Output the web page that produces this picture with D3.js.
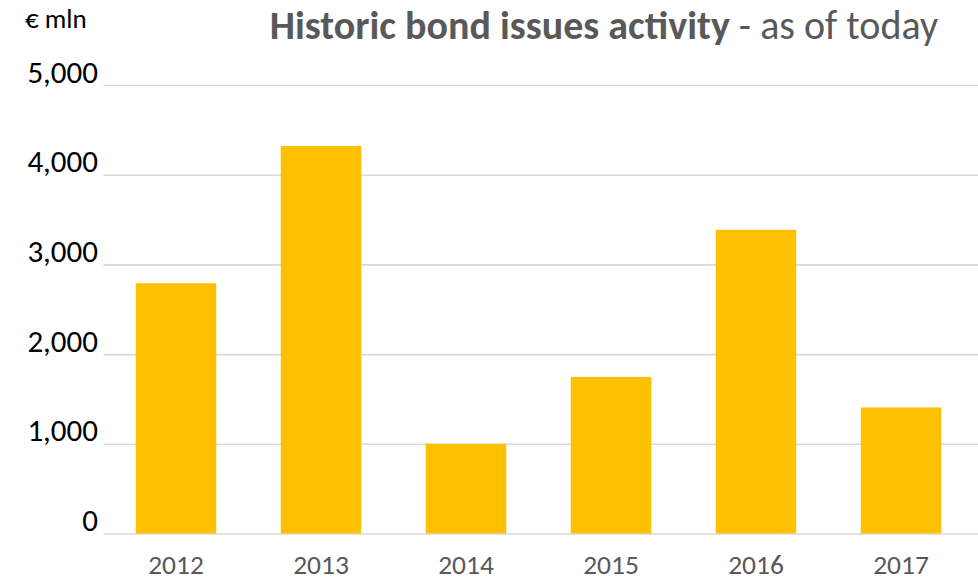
<!DOCTYPE html>
<html>
<head>
<meta charset="utf-8">
<script src="https://cdn.jsdelivr.net/npm/d3@7"></script>
<style>
  html, body { margin: 0; padding: 0; background: #fff; }
  svg { display: block; }
  text { font-family: Carlito, "Open Sans", Lato, sans-serif; }
</style>
</head>
<body>
<svg id="chart" width="978" height="582"></svg>
<script>
// Yearly bond issue volume, € mln
const years = ["2012", "2013", "2014", "2015", "2016", "2017"];
const issued = [2790, 4320, 1000, 1745, 3385, 1405];
const yTicks = [0, 1000, 2000, 3000, 4000, 5000];

const width = 978, height = 582;
const margin = { top: 85, right: 4.5, bottom: 48.5, left: 103.5 };

const svg = d3.select("#chart");

const x = d3.scaleBand()
  .domain(years)
  .range([margin.left, width - margin.right])
  .paddingInner(0.445)
  .paddingOuter(0.2225);

const y = d3.scaleLinear()
  .domain([0, 5000])
  .range([height - margin.bottom, margin.top]);

// horizontal gridlines with value labels on the left
const yAxis = d3.axisLeft(y)
  .tickValues(yTicks)
  .tickFormat(d3.format(","))
  .tickSize(-(width - margin.left))
  .tickPadding(5.5);

const gy = svg.append("g")
  .attr("transform", `translate(${margin.left},0)`)
  .call(yAxis);
gy.select(".domain").remove();
gy.selectAll(".tick line")
  .attr("stroke", "#d9d9d9")
  .attr("stroke-width", 1.6);
gy.selectAll(".tick text")
  .attr("fill", "#000")
  .attr("font-size", 31)
  .attr("y", -3)
  .attr("dy", 0);

// bars
svg.append("g")
  .selectAll("rect")
  .data(years)
  .join("rect")
  .attr("x", d => x(d))
  .attr("width", x.bandwidth())
  .attr("y", (d, i) => y(issued[i]))
  .attr("height", (d, i) => y(0) - y(issued[i]))
  .attr("fill", "#FFC000");

// year labels
const xAxis = d3.axisBottom(x).tickSize(0).tickPadding(0);
const gx = svg.append("g")
  .attr("transform", `translate(0,${y(0)})`)
  .call(xAxis);
gx.select(".domain").remove();
gx.selectAll(".tick text")
  .attr("fill", "#595959")
  .attr("font-size", 27.5)
  .attr("y", 40.5)
  .attr("dy", 0);

// unit label
svg.append("text")
  .attr("x", 25)
  .attr("y", 28)
  .attr("font-size", 27)
  .attr("fill", "#000")
  .text("€ mln");

// title
const title = svg.append("text")
  .attr("x", 938)
  .attr("y", 38.5)
  .attr("text-anchor", "end")
  .attr("font-size", 40)
  .attr("fill", "#595959");
title.append("tspan").attr("font-weight", "bold").text("Historic bond issues activity");
title.append("tspan").text(" - as of today");
</script>
</body>
</html>
